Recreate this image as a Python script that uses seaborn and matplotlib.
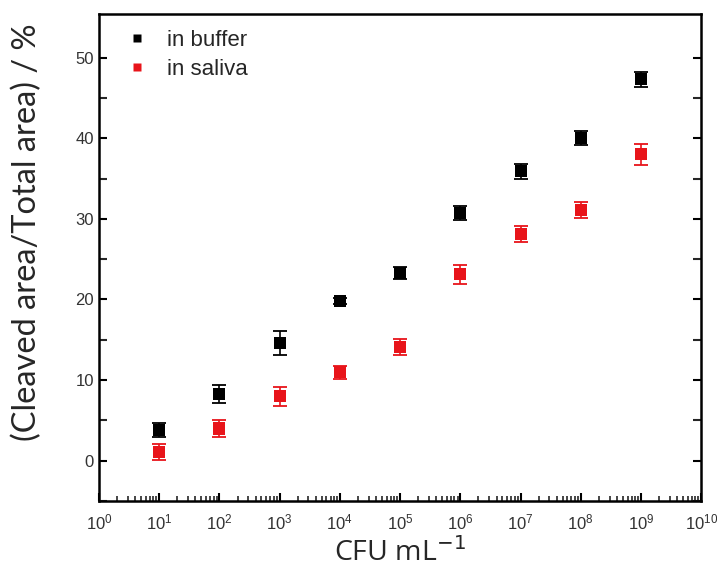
import numpy as np
import pandas as pd
import matplotlib
matplotlib.use("Agg")
import matplotlib.pyplot as plt
import matplotlib.ticker as mticker
import seaborn as sns

cfu = [1e1, 1e2, 1e3, 1e4, 1e5, 1e6, 1e7, 1e8, 1e9]
buffer_vals = [3.8, 8.3, 14.6, 19.8, 23.3, 30.7, 35.9, 40.0, 47.3]
buffer_err = [0.9, 1.1, 1.5, 0.4, 0.7, 0.9, 0.9, 0.9, 0.9]
saliva_vals = [1.1, 4.0, 8.0, 11.0, 14.1, 23.1, 28.1, 31.1, 38.0]
saliva_err = [1.0, 1.1, 1.2, 0.8, 1.0, 1.2, 1.0, 1.0, 1.3]
series_names = ["in buffer", "in saliva"]
series_colors = ["#000000", "#e8141a"]

df = pd.DataFrame({
    "cfu": cfu * 2,
    "val": buffer_vals + saliva_vals,
    "err": buffer_err + saliva_err,
    "series": [series_names[0]] * len(cfu) + [series_names[1]] * len(cfu),
})

sns.set_style("ticks")
plt.rcParams['font.family'] = ['Liberation Sans', 'DejaVu Sans']

fig = plt.figure(figsize=(7.17, 5.72), dpi=100)
ax = fig.add_axes([0.138, 0.124, 0.840, 0.8515])

for name, col in zip(series_names, series_colors):
    sub = df[df["series"] == name]
    ax.errorbar(sub["cfu"], sub["val"], yerr=sub["err"], fmt="none",
                ecolor=col, elinewidth=1.2, capsize=5, capthick=1.3, zorder=2)

sns.scatterplot(data=df, x="cfu", y="val", hue="series", palette=series_colors,
                marker="s", s=75, edgecolor="none", ax=ax, zorder=3, legend=True)

ax.set_xscale("log")
ax.set_xlim(1e0, 1e10)
ax.set_ylim(-5, 55.4)
ax.xaxis.set_major_locator(mticker.LogLocator(base=10, numticks=12))
ax.xaxis.set_minor_locator(mticker.LogLocator(base=10, subs=np.arange(2, 10), numticks=12))
ax.xaxis.set_minor_formatter(mticker.NullFormatter())
ax.yaxis.set_major_locator(mticker.MultipleLocator(10))
ax.yaxis.set_minor_locator(mticker.FixedLocator([-5, 5, 15, 25, 35, 45]))

for s in ax.spines.values():
    s.set_linewidth(1.8)
    s.set_color("black")

ax.tick_params(axis="both", which="major", direction="in", length=6, width=1.5,
               labelsize=12, colors="black", labelcolor="#333333")
ax.tick_params(axis="y", which="minor", direction="in", length=6, width=1.5)
ax.tick_params(axis="x", which="minor", direction="in", length=3.5, width=1.2)
ax.tick_params(axis="y", which="both", right=True, labelright=False)
ax.tick_params(axis="x", which="both", top=False)
ax.tick_params(axis="x", which="major", pad=8)

ax.set_xlabel("CFU mL$^{-1}$", fontsize=20.5, family=["Open Sans", "DejaVu Sans"], labelpad=4)
ax.set_ylabel("(Cleaved area/Total area) / %", fontsize=23.5, family=["Lato", "DejaVu Sans"])
ax.yaxis.set_label_coords(-0.095, 0.552)

leg = ax.legend(loc="upper left", frameon=False, fontsize=16, title=None,
                handlelength=1.0, handletextpad=0.85, borderaxespad=0.0, borderpad=0.0,
                labelspacing=0.35, markerscale=0.7, bbox_to_anchor=(0.045, 0.967))

fig.savefig("out.png", dpi=100)
